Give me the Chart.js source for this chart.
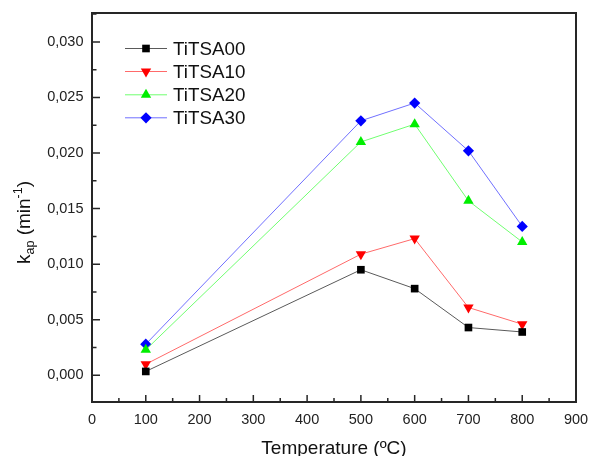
<!DOCTYPE html>
<html>
<head>
<meta charset="utf-8">
<script src="https://cdn.jsdelivr.net/npm/chart.js@4.4.1/dist/chart.umd.min.js"></script>
<style>
  html, body { margin: 0; padding: 0; background: #fff; }
  #wrap { width: 590px; height: 456px; }
</style>
</head>
<body>
<div id="wrap"><canvas id="c" width="590" height="456"></canvas></div>
<script>
// Calcination temperature (ºC) and apparent rate constants k_ap (min^-1)
const temps = [100, 500, 600, 700, 800];
const titsa00 = [0.00035, 0.0095, 0.0078, 0.0043, 0.0039];
const titsa10 = [0.0010, 0.0109, 0.0123, 0.0061, 0.0046];
const titsa20 = [0.0023, 0.0210, 0.0226, 0.0157, 0.0120];
const titsa30 = [0.0028, 0.0229, 0.0245, 0.0202, 0.0134];

const seriesNames = ['TiTSA00', 'TiTSA10', 'TiTSA20', 'TiTSA30'];

const xTicks = [0, 100, 200, 300, 400, 500, 600, 700, 800, 900];
const xMinorTicks = [50, 150, 250, 350, 450, 550, 650, 750, 850];
const yTicks = [0, 0.005, 0.010, 0.015, 0.020, 0.025, 0.030];
const yMinorTicks = [0.0025, 0.0075, 0.0125, 0.0175, 0.0225, 0.0275, 0.0325];

const FONT = '"Liberation Sans", Arial, sans-serif';
const AXIS_COLOR = '#262626';

const styles = [
  { line: '#5a5a5a', fill: '#000000', pointStyle: 'rect', rotation: 0, radius: 5.4 },
  { line: '#ff6a6a', fill: '#ff0000', pointStyle: 'triangle', rotation: 180, radius: 6 },
  { line: '#70ff70', fill: '#00ee00', pointStyle: 'triangle', rotation: 0, radius: 6 },
  { line: '#7070ff', fill: '#0000ff', pointStyle: 'rectRot', rotation: 0, radius: 5.6 }
];

const values = [titsa00, titsa10, titsa20, titsa30];

const datasets = values.map((vals, i) => ({
  label: seriesNames[i],
  data: temps.map((t, j) => ({ x: t, y: vals[j] })),
  borderColor: styles[i].line,
  borderWidth: 1,
  backgroundColor: styles[i].fill,
  pointBackgroundColor: styles[i].fill,
  pointBorderColor: styles[i].fill,
  pointBorderWidth: 0,
  pointStyle: styles[i].pointStyle,
  pointRotation: styles[i].rotation,
  pointRadius: styles[i].radius,
  pointHoverRadius: styles[i].radius,
  tension: 0,
  fill: false
}));

// Inward major/minor ticks on the bottom and left axes, plus the frame
const innerTicks = {
  id: 'innerTicks',
  beforeDatasetsDraw(chart) {
    const { ctx, chartArea: a, scales: { x, y } } = chart;
    ctx.save();
    ctx.strokeStyle = AXIS_COLOR;
    ctx.lineWidth = 1.5;
    ctx.beginPath();
    xTicks.forEach(v => { const px = x.getPixelForValue(v); ctx.moveTo(px, a.bottom); ctx.lineTo(px, a.bottom - 7); });
    xMinorTicks.forEach(v => { const px = x.getPixelForValue(v); ctx.moveTo(px, a.bottom); ctx.lineTo(px, a.bottom - 4); });
    yTicks.forEach(v => { const py = y.getPixelForValue(v); ctx.moveTo(a.left, py); ctx.lineTo(a.left + 8, py); });
    yMinorTicks.forEach(v => {
      const py = y.getPixelForValue(v);
      if (py > a.top + 1 && py < a.bottom - 1) { ctx.moveTo(a.left, py); ctx.lineTo(a.left + 4.5, py); }
    });
    ctx.stroke();
    ctx.restore();
  },
  afterDatasetsDraw(chart) {
    const { ctx, chartArea: a } = chart;
    ctx.save();
    ctx.strokeStyle = AXIS_COLOR;
    ctx.lineWidth = 2;
    ctx.strokeRect(a.left, a.top, a.right - a.left, a.bottom - a.top);
    ctx.restore();
  }
};

// Legend with line + marker samples
const lineLegend = {
  id: 'lineLegend',
  afterDraw(chart) {
    const { ctx } = chart;
    const x0 = 125, x1 = 167, xm = 146, xt = 173;
    const rows = [48.5, 71.5, 94.8, 117.8];
    ctx.save();
    chart.data.datasets.forEach((ds, i) => {
      const yy = rows[i];
      ctx.strokeStyle = ds.borderColor;
      ctx.lineWidth = 1;
      ctx.beginPath();
      ctx.moveTo(x0, yy); ctx.lineTo(x1, yy);
      ctx.stroke();
      ctx.fillStyle = ds.pointBackgroundColor;
      ctx.strokeStyle = ds.pointBackgroundColor;
      Chart.helpers.drawPoint(ctx, {
        pointStyle: ds.pointStyle, rotation: ds.pointRotation,
        radius: ds.pointRadius, borderWidth: 0
      }, xm, yy);
      ctx.fillStyle = '#111';
      ctx.font = '18.8px ' + FONT;
      ctx.textAlign = 'left';
      ctx.textBaseline = 'middle';
      ctx.fillText(ds.label, xt, yy + 1);
    });
    ctx.restore();
  }
};

// Axis titles, with sub/superscripts on the y title
const axisTitles = {
  id: 'axisTitles',
  afterDraw(chart) {
    const { ctx, chartArea: a } = chart;
    ctx.save();
    ctx.fillStyle = '#111';
    ctx.textBaseline = 'alphabetic';
    ctx.font = '19px ' + FONT;
    ctx.textAlign = 'center';
    ctx.fillText('Temperature (ºC)', (a.left + a.right) / 2, 453.5);

    const big = '19px ' + FONT, small = '12.5px ' + FONT;
    const parts = [
      { t: 'k', f: big, dy: 0 },
      { t: 'ap', f: small, dy: 4 },
      { t: ' (min', f: big, dy: 0 },
      { t: '-1', f: small, dy: -8 },
      { t: ')', f: big, dy: 0 }
    ];
    let total = 0;
    parts.forEach(p => { ctx.font = p.f; p.w = ctx.measureText(p.t).width; total += p.w; });
    ctx.translate(30, 222.5);
    ctx.rotate(-Math.PI / 2);
    ctx.textAlign = 'left';
    let cx = -total / 2;
    parts.forEach(p => { ctx.font = p.f; ctx.fillText(p.t, cx, p.dy); cx += p.w; });
    ctx.restore();
  }
};

new Chart(document.getElementById('c'), {
  type: 'line',
  data: { datasets },
  options: {
    responsive: false,
    animation: false,
    devicePixelRatio: 1,
    layout: { padding: { left: 0, right: 14, top: 13, bottom: 0 } },
    plugins: { legend: { display: false }, tooltip: { enabled: false } },
    scales: {
      x: {
        type: 'linear',
        min: 0, max: 900,
        afterFit(s) { s.height = 54; s.paddingLeft = 0; s.paddingRight = 0; },
        afterBuildTicks(s) { s.ticks = xTicks.map(v => ({ value: v })); },
        grid: { display: false, drawTicks: false },
        border: { display: false },
        ticks: {
          padding: 9,
          color: '#222',
          font: { family: FONT, size: 14.5 },
          maxRotation: 0,
          callback: v => String(v)
        }
      },
      y: {
        type: 'linear',
        min: -0.0024, max: 0.0326,
        afterFit(s) { s.width = 92; s.paddingTop = 0; s.paddingBottom = 0; },
        afterBuildTicks(s) { s.ticks = yTicks.map(v => ({ value: v })); },
        grid: { display: false, drawTicks: false },
        border: { display: false },
        ticks: {
          padding: 8.5,
          color: '#222',
          font: { family: FONT, size: 14.5 },
          callback: v => v.toFixed(3).replace('.', ',')
        }
      }
    }
  },
  plugins: [innerTicks, lineLegend, axisTitles]
});
</script>
</body>
</html>
